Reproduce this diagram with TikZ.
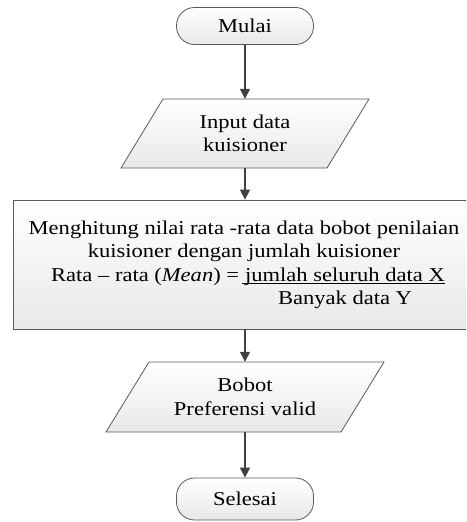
\documentclass[tikz,border=0pt]{standalone}
\usepackage{fontspec}
\setmainfont[FakeStretch=1.15]{Liberation Serif}
\usetikzlibrary{arrows.meta}
\definecolor{edge}{HTML}{5A5A5A}
\definecolor{arrowc}{HTML}{404040}
\begin{document}
\begin{tikzpicture}[x=1pt,y=-1pt,
  font=\fontsize{19.6}{23.5}\selectfont,
  box/.style={draw=edge, line width=0.8pt, top color=white, bottom color=black!9},
  term/.style={box, rounded corners=18pt, minimum width=137pt, inner sep=0pt},
  txt/.style={inner sep=0pt, align=center},
  line/.style={inner sep=0pt, anchor=base},
  arr/.style={draw=arrowc, line width=1.4pt, -{Triangle[length=10pt,width=10pt]}}]
\useasboundingbox (0,0) rectangle (466,522);
\clip (0,0) rectangle (466,522);
% start
\node[term, minimum height=37pt] (start) at (245,26) {Mulai};
% input
\path[box] (163,99) -- (369,99) -- (327,168) -- (121,168) -- cycle;
\node[txt, minimum height=69pt] (inp) at (245,133.5) {Input data\\kuisioner};
% process
\node[box, minimum width=464pt, minimum height=129pt, inner sep=0pt] (calc) at (245,264.5) {};
\node[line] (l1) at (244,234) {Menghitung nilai rata -rata data bobot penilaian};
\node[line] (l2) at (244,257.5) {kuisioner dengan jumlah kuisioner};
\node[line, anchor=base east] (l3b) at (445,281) {jumlah seluruh data X};
\node[line, anchor=base east] (l3a) at ([xshift=-5.6pt]l3b.base west) {Rata – rata (\textit{Mean}) =};
\draw[line width=0.8pt] ([xshift=3pt,yshift=-2.5pt]l3a.base east) -- ([yshift=-2.5pt]l3b.base east);
\node[line] (l4) at (345,304.5) {Banyak data Y};
% output
\path[box] (149,362) -- (384,362) -- (341,432) -- (106,432) -- cycle;
\node[txt, minimum height=70pt] (out) at (245,397) {Bobot\\Preferensi valid};
% end
\node[term, minimum height=42pt] (stop) at (245,499) {Selesai};
% connectors
\draw[arr] (start.south) -- (inp.north);
\draw[arr] (inp.south) -- (calc.north);
\draw[arr] (calc.south) -- (out.north);
\draw[arr] (out.south) -- (stop.north);
\end{tikzpicture}
\end{document}
